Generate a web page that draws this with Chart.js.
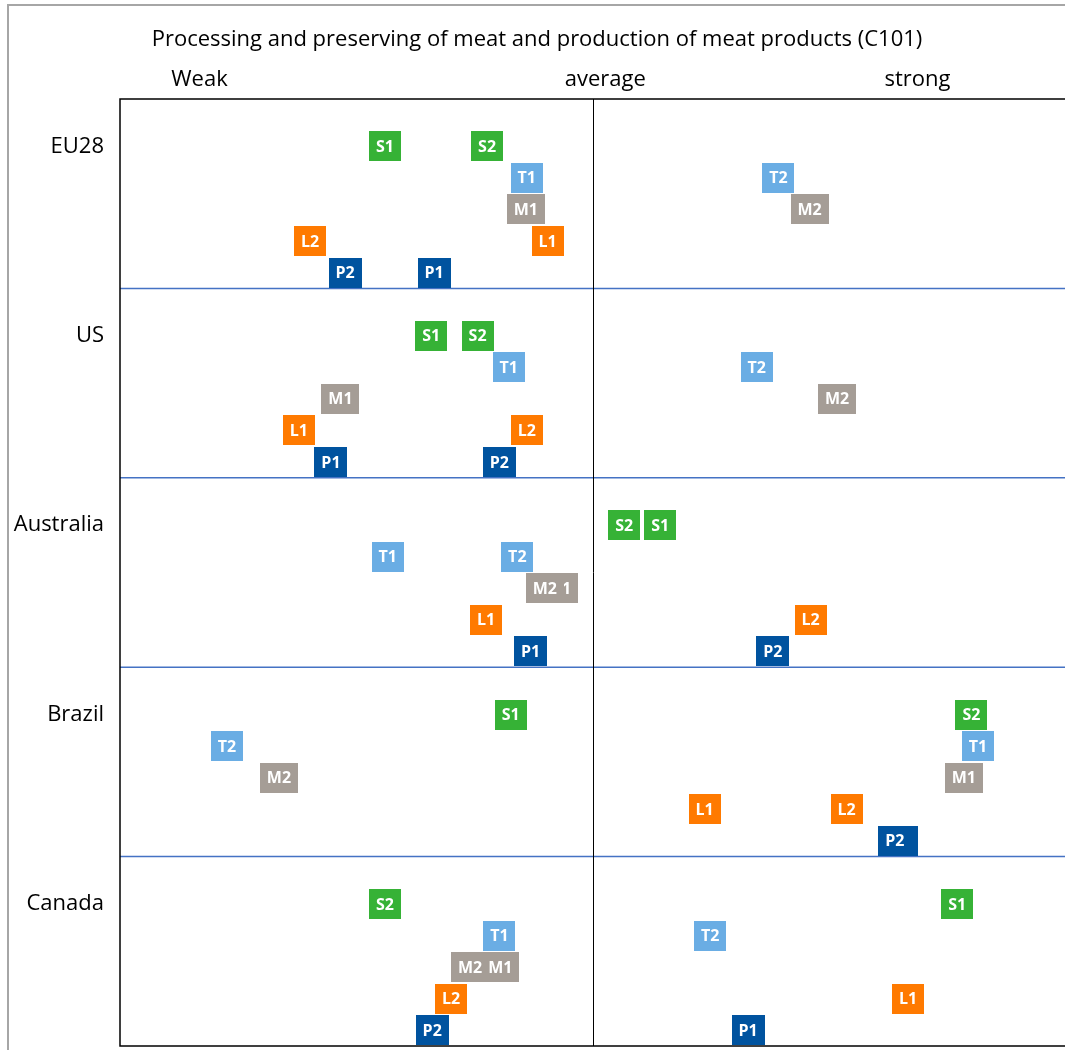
<!DOCTYPE html>
<html>
<head>
<meta charset="utf-8">
<script src="https://cdn.jsdelivr.net/npm/chart.js@4/dist/chart.umd.min.js"></script>
<style>
  html, body { margin: 0; padding: 0; background: #fff; overflow: hidden; }
  #frame { position: absolute; left: 7px; top: 4px; width: 2000px; height: 2000px;
           border-left: 2px solid #a6a6a6; border-top: 2px solid #a6a6a6; }
  #wrap { position: absolute; left: 0; top: 0; width: 1075px; height: 1050px; }
</style>
</head>
<body>
<div id="frame"></div>
<div id="wrap"><canvas id="posChart" width="1075" height="1050"></canvas></div>
<script>
const chartTitle = 'Processing and preserving of meat and production of meat products (C101)';
const countries = ['EU28', 'US', 'Australia', 'Brazil', 'Canada'];
const headerLabels = ['Weak', 'average', 'strong'];
const headerPos = [8.4, 51.3, 84.3];

// position on the weak..strong scale (0-100), one value per country
const codes = ['S1', 'S2', 'T1', 'T2', 'M1', 'M2', 'L1', 'L2', 'P1', 'P2'];
const codeRows = [1, 1, 2, 2, 3, 3, 4, 4, 5, 5];
const S1 = [28.0, 32.9, 57.1, 41.3, 88.5];
const S2 = [38.8, 37.8, 53.3, 90.0, 28.0];
const T1 = [43.0, 41.1, 28.3, 90.7, 40.1];
const T2 = [69.6, 67.3, 42.0, 11.3, 62.4];
const M1 = [42.9, 23.3, 46.4, 89.2, 40.2];
const M2 = [72.9, 75.8, 44.9, 16.8, 37.0];
const L1 = [45.2, 18.9, 38.7, 61.8, 83.3];
const L2 = [20.1, 43.0, 73.0, 76.8, 35.0];
const P1 = [33.2, 22.3, 43.4, 82.6, 66.4];
const P2 = [23.8, 40.1, 69.0, 81.9, 33.0];
const values = [S1, S2, T1, T2, M1, M2, L1, L2, P1, P2];

const colors = { S: '#36b236', T: '#6aade4', M: '#a59d96', L: '#ff7a00', P: '#00539f' };
const rowsPerCountry = 6;

const datasets = codes.map((code, i) => ({
  label: code,
  data: values[i].map((v, c) => ({ x: v, y: c * rowsPerCountry + codeRows[i] + 0.5 })),
  backgroundColor: colors[code[0]],
  pointRadius: 0
}));

const boxes = {
  id: 'boxes',
  beforeDatasetsDraw(chart) {
    const { ctx, chartArea, scales: { x, y } } = chart;
    ctx.save();
    ctx.strokeStyle = '#4472c4';
    ctx.lineWidth = 1.5;
    for (let k = 1; k < countries.length; k++) {
      const py = y.getPixelForValue(k * rowsPerCountry);
      ctx.beginPath();
      ctx.moveTo(chartArea.left, py);
      ctx.lineTo(chartArea.right, py);
      ctx.stroke();
    }
    ctx.strokeStyle = '#000';
    ctx.lineWidth = 1;
    const mx = Math.round(x.getPixelForValue(50)) + 0.5;
    ctx.beginPath();
    ctx.moveTo(mx, chartArea.top);
    ctx.lineTo(mx, chartArea.bottom);
    ctx.stroke();
    ctx.restore();
  },
  afterDatasetsDraw(chart) {
    const { ctx } = chart;
    ctx.save();
    ctx.font = 'bold 16px "Open Sans"';
    ctx.textAlign = 'center';
    ctx.textBaseline = 'middle';
    chart.data.datasets.forEach((ds, i) => {
      chart.getDatasetMeta(i).data.forEach(pt => {
        const w = Math.round(ctx.measureText(ds.label).width + 14);
        const h = 30;
        ctx.fillStyle = ds.backgroundColor;
        ctx.fillRect(Math.round(pt.x - w / 2), Math.round(pt.y - h / 2), w, h);
        ctx.fillStyle = '#fff';
        ctx.fillText(ds.label, pt.x, pt.y + 1);
      });
    });
    ctx.restore();
  },
  afterDraw(chart) {
    const { ctx, chartArea } = chart;
    ctx.save();
    ctx.strokeStyle = '#000';
    ctx.lineWidth = 1.5;
    ctx.strokeRect(chartArea.left, chartArea.top, chartArea.right - chartArea.left, chartArea.bottom - chartArea.top);
    ctx.restore();
  }
};

new Chart(document.getElementById('posChart'), {
  type: 'scatter',
  data: { datasets: datasets },
  options: {
    responsive: false,
    animation: false,
    events: [],
    layout: { padding: { left: 8, right: 9, top: 0, bottom: 4 } },
    plugins: {
      legend: { display: false },
      tooltip: { enabled: false },
      title: {
        display: true,
        text: chartTitle,
        color: '#000',
        font: { family: 'Open Sans', size: 22, weight: 'normal' },
        padding: { top: 26.8, bottom: 0 }
      }
    },
    scales: {
      x: {
        type: 'linear', min: 0, max: 100, position: 'top',
        grid: { display: false, drawTicks: false },
        border: { display: false },
        afterBuildTicks: s => { s.ticks = headerPos.map(v => ({ value: v })); },
        afterFit: s => { s.height = 45.8; s.paddingLeft = 0; s.paddingRight = 0; },
        ticks: {
          autoSkip: false, maxRotation: 0, padding: 5.8, color: '#000',
          font: { family: 'Open Sans', size: 22 },
          callback: (v, i) => headerLabels[i]
        }
      },
      y: {
        type: 'linear', min: 0, max: countries.length * rowsPerCountry, reverse: true,
        grid: { display: false, drawTicks: false },
        border: { display: false },
        afterBuildTicks: s => { s.ticks = countries.map((c, i) => ({ value: i * rowsPerCountry + 1.5 })); },
        afterFit: s => { s.width = 112; s.paddingTop = 0; s.paddingBottom = 0; },
        ticks: {
          autoSkip: false, padding: 16, color: '#000',
          font: { family: 'Open Sans', size: 22 },
          callback: (v, i) => countries[i]
        }
      }
    }
  },
  plugins: [boxes]
});
</script>
</body>
</html>
